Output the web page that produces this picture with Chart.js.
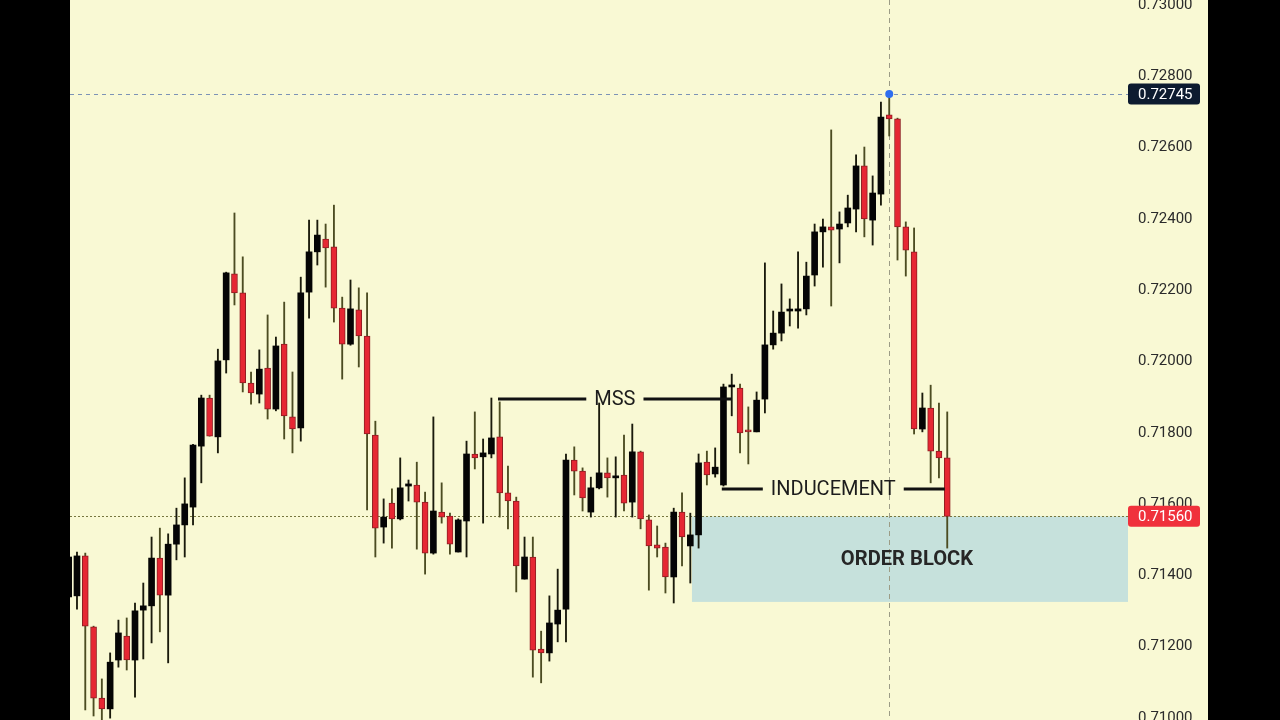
<!DOCTYPE html>
<html><head><meta charset="utf-8">
<script src="https://cdn.jsdelivr.net/npm/chart.js@4.4.1/dist/chart.umd.min.js"></script>
<style>
html,body{margin:0;padding:0;background:#000;width:1280px;height:720px;overflow:hidden}
#wrap{position:absolute;left:70px;top:0;width:1138px;height:720px;background:#f9f9d4}
canvas{display:block}
</style></head><body>
<div id="wrap"><canvas id="c" width="1138" height="720"></canvas></div>
<script>
// ---- data (candle index 0..106) ----
const opens = [0.71334,0.71337,0.71449,0.71250,0.71050,0.71020,0.71157,0.71224,0.71157,0.71297,
0.71309,0.71443,0.71339,0.71482,0.71536,0.71586,0.71757,0.71892,0.71783,0.71999,
0.72240,0.72187,0.71934,0.71903,0.71976,0.71861,0.72043,0.71839,0.71808,0.72189,
0.72302,0.72338,0.72316,0.72144,0.72043,0.72139,0.72066,0.71788,0.71530,0.71597,
0.71553,0.71645,0.71648,0.71600,0.71457,0.71572,0.71561,0.71460,0.71547,0.71735,
0.71727,0.71735,0.71783,0.71626,0.71603,0.71384,0.71446,0.71188,0.71177,0.71258,
0.71300,0.71718,0.71687,0.71572,0.71640,0.71682,0.71668,0.71676,0.71600,0.71741,
0.71550,0.71480,0.71474,0.71390,0.71572,0.71477,0.71508,0.71712,0.71679,0.71648,
0.71923,0.71920,0.71799,0.71797,0.71889,0.72041,0.72074,0.72136,0.72136,0.72142,
0.72237,0.72358,0.72372,0.72366,0.72383,0.72422,0.72543,0.72391,0.72464,0.72686,
0.72675,0.72372,0.72302,0.71805,0.71864,0.71743,0.71724];
const highs = [0.71466,0.71460,0.71457,0.71252,0.71104,0.71177,0.71269,0.71275,0.71317,0.71373,
0.71502,0.71527,0.71511,0.71583,0.71668,0.71762,0.71900,0.71900,0.72029,0.72245,
0.72411,0.72288,0.71965,0.72027,0.72125,0.72063,0.72161,0.71965,0.72231,0.72391,
0.72391,0.72380,0.72433,0.72175,0.72223,0.72201,0.72187,0.71827,0.71609,0.71637,
0.71724,0.71662,0.71712,0.71628,0.71839,0.71654,0.71569,0.71553,0.71771,0.71853,
0.71777,0.71892,0.71881,0.71701,0.71614,0.71502,0.71502,0.71238,0.71337,0.71412,
0.71735,0.71755,0.71696,0.71670,0.71878,0.71724,0.71727,0.71788,0.71819,0.71743,
0.71564,0.71533,0.71485,0.71583,0.71626,0.71569,0.71735,0.71743,0.71752,0.71931,
0.71959,0.71931,0.71867,0.71909,0.72271,0.72136,0.72212,0.72170,0.72302,0.72273,
0.72380,0.72394,0.72644,0.72414,0.72461,0.72574,0.72596,0.72515,0.72722,0.72745,
0.72677,0.72386,0.72369,0.71906,0.71928,0.71878,0.71853];
const lows = [0.71292,0.71300,0.71017,0.71000,0.70983,0.70994,0.71137,0.71129,0.71053,0.71160,
0.71205,0.71236,0.71149,0.71438,0.71446,0.71536,0.71654,0.71785,0.71738,0.71962,
0.72153,0.71909,0.71875,0.71878,0.71833,0.71856,0.71777,0.71738,0.71771,0.72116,
0.72265,0.72203,0.72105,0.71945,0.72040,0.71979,0.71578,0.71446,0.71485,0.71471,
0.71550,0.71603,0.71468,0.71398,0.71454,0.71541,0.71454,0.71460,0.71446,0.71693,
0.71541,0.71724,0.71558,0.71525,0.71348,0.71384,0.71109,0.71093,0.71154,0.71208,
0.71208,0.71620,0.71575,0.71558,0.71637,0.71614,0.71558,0.71575,0.71558,0.71525,
0.71353,0.71446,0.71345,0.71317,0.71421,0.71373,0.71471,0.71648,0.71670,0.71645,
0.71842,0.71738,0.71707,0.71797,0.71850,0.72029,0.72052,0.72094,0.72088,0.72125,
0.72206,0.72259,0.72150,0.72271,0.72372,0.72358,0.72344,0.72321,0.72433,0.72627,
0.72279,0.72234,0.71791,0.71797,0.71654,0.71668,0.71471];
const closes = [0.71446,0.71449,0.71252,0.71050,0.71020,0.71151,0.71233,0.71157,0.71295,0.71309,
0.71443,0.71339,0.71482,0.71536,0.71595,0.71760,0.71892,0.71785,0.71996,0.72243,
0.72187,0.71934,0.71906,0.71973,0.71861,0.72038,0.71842,0.71805,0.72187,0.72302,
0.72349,0.72313,0.72144,0.72043,0.72142,0.72066,0.71791,0.71527,0.71558,0.71553,
0.71640,0.71651,0.71600,0.71457,0.71575,0.71558,0.71482,0.71550,0.71735,0.71724,
0.71738,0.71780,0.71626,0.71603,0.71421,0.71446,0.71185,0.71177,0.71261,0.71297,
0.71718,0.71687,0.71612,0.71640,0.71682,0.71668,0.71673,0.71597,0.71741,0.71553,
0.71477,0.71471,0.71390,0.71572,0.71502,0.71508,0.71710,0.71676,0.71698,0.71923,
0.71928,0.71794,0.71797,0.71886,0.72041,0.72074,0.72133,0.72139,0.72142,0.72234,
0.72358,0.72372,0.72363,0.72380,0.72425,0.72543,0.72394,0.72467,0.72680,0.72675,
0.72372,0.72307,0.71805,0.71864,0.71743,0.71724,0.71560];
const yTicks = [0.710,0.712,0.714,0.716,0.718,0.720,0.722,0.724,0.726,0.728,0.730];
const highMark = 0.72745;      // last swing high (marker + label)
const highMarkIndex = 99;
const lastPrice = 0.71560;     // price line + label
const mssLine = {from:51.8, to:80, level:0.71889, text:'MSS'};
const indLine = {from:78.8, to:105.7, level:0.71637, text:'INDUCEMENT'};
const orderBlock = {from:75.2, top:0.71560, bottom:0.71320, text:'ORDER BLOCK'};

// ---- view range ----
const xMin = 0.157, xMax = 127.81;
const yMin = 0.7098878, yMax = 0.7300842;

const idx = opens.map((_, i) => i);
const bull = idx.map(i => closes[i] >= opens[i]);
const RED = '#e62733';

const annot = {
  id: 'annot',
  beforeDatasetsDraw(chart) {
    const {ctx, chartArea: a, scales: {x, y}} = chart;
    ctx.save();
    const bx = x.getPixelForValue(orderBlock.from);
    const by0 = y.getPixelForValue(orderBlock.top), by1 = y.getPixelForValue(orderBlock.bottom);
    ctx.fillStyle = '#c6e1dc';
    ctx.fillRect(bx, by0, a.right - bx, by1 - by0);
    let hy = Math.round(y.getPixelForValue(highMark)) + 0.5;
    ctx.strokeStyle = '#7d93b6'; ctx.lineWidth = 1; ctx.setLineDash([4, 4]);
    ctx.beginPath(); ctx.moveTo(a.left, hy); ctx.lineTo(a.right, hy); ctx.stroke();
    let ly = Math.round(y.getPixelForValue(lastPrice)) + 0.5;
    ctx.strokeStyle = '#77773f'; ctx.setLineDash([2, 2]);
    ctx.beginPath(); ctx.moveTo(a.left, ly); ctx.lineTo(a.right, ly); ctx.stroke();
    let cx = Math.round(x.getPixelForValue(highMarkIndex)) + 0.5;
    ctx.strokeStyle = '#9c9c86'; ctx.setLineDash([5, 4]);
    ctx.beginPath(); ctx.moveTo(cx, a.top); ctx.lineTo(cx, a.bottom); ctx.stroke();
    ctx.restore();
  },
  afterDatasetsDraw(chart) {
    const {ctx, chartArea: a, scales: {x, y}} = chart;
    ctx.save();
    const drawLabelLine = (L) => {
      const x0 = x.getPixelForValue(L.from), x1 = x.getPixelForValue(L.to);
      const yy = y.getPixelForValue(L.level);
      ctx.font = '20px Roboto';
      const w = ctx.measureText(L.text).width;
      const cxm = (x0 + x1) / 2;
      ctx.strokeStyle = '#111'; ctx.lineWidth = 3; ctx.setLineDash([]);
      ctx.beginPath();
      ctx.moveTo(x0, yy); ctx.lineTo(cxm - w / 2 - 8, yy);
      ctx.moveTo(cxm + w / 2 + 8, yy); ctx.lineTo(x1, yy);
      ctx.stroke();
      ctx.fillStyle = '#1c1c1c'; ctx.textAlign = 'center'; ctx.textBaseline = 'middle';
      ctx.fillText(L.text, cxm, yy + 1);
    };
    drawLabelLine(mssLine);
    drawLabelLine(indLine);
    const bx = x.getPixelForValue(orderBlock.from);
    const by0 = y.getPixelForValue(orderBlock.top), by1 = y.getPixelForValue(orderBlock.bottom);
    ctx.save();
    ctx.translate((bx + a.right) / 2 - 3, (by0 + by1) / 2 + 1);
    ctx.scale(0.96, 1);
    ctx.font = 'bold 21px Roboto';
    ctx.fillStyle = '#262626'; ctx.textAlign = 'center'; ctx.textBaseline = 'middle';
    ctx.fillText(orderBlock.text, 0, 0);
    ctx.restore();
    ctx.fillStyle = '#2f6ef0';
    ctx.beginPath();
    ctx.arc(x.getPixelForValue(highMarkIndex), y.getPixelForValue(highMark), 4, 0, Math.PI * 2);
    ctx.fill();
    ctx.restore();
  },
  afterDraw(chart) {
    const {ctx, chartArea: a, scales: {y}} = chart;
    ctx.save();
    const box = (val, color) => {
      const yy = y.getPixelForValue(val);
      ctx.fillStyle = color;
      ctx.beginPath();
      ctx.roundRect(a.right, yy - 10.5, 72, 21, 3);
      ctx.fill();
      ctx.fillStyle = '#ffffff'; ctx.font = '15px Roboto';
      ctx.textAlign = 'left'; ctx.textBaseline = 'middle';
      ctx.fillText(val.toFixed(5), a.right + 10, yy + 1);
    };
    box(highMark, '#0d1b30');
    box(lastPrice, '#f0313c');
    ctx.restore();
  }
};

new Chart(document.getElementById('c'), {
  type: 'bar',
  data: {
    datasets: [
      {
        label: 'body',
        order: 0,
        grouped: false,
        data: idx.map(i => ({x: i, y: [opens[i], closes[i]]})),
        backgroundColor: idx.map(i => bull[i] ? '#050505' : RED),
        borderColor: idx.map(i => bull[i] ? '#050505' : '#8e1d22'),
        borderWidth: idx.map(i => bull[i] ? 0 : 1),
        borderSkipped: false,
        barThickness: 6,
        minBarLength: 2
      },
      {
        label: 'wick',
        order: 1,
        grouped: false,
        data: idx.map(i => ({x: i, y: [lows[i], highs[i]]})),
        backgroundColor: idx.map(i => bull[i] ? '#1a1a0c' : '#4c4c22'),
        borderWidth: 0,
        barThickness: 1.2
      }
    ]
  },
  options: {
    responsive: false,
    animation: false,
    events: [],
    layout: {padding: 0},
    plugins: {legend: {display: false}, tooltip: {enabled: false}},
    scales: {
      x: {type: 'linear', display: false, min: xMin, max: xMax, offset: false},
      y: {
        position: 'right', min: yMin, max: yMax,
        grid: {display: false}, border: {display: false},
        afterBuildTicks: s => { s.ticks = yTicks.map(v => ({value: v})); },
        afterFit: s => { s.width = 80; s.paddingTop = 0; s.paddingBottom = 0; },
        ticks: {padding: 2, labelOffset: 2, color: '#2b2b2b', autoSkip: false,
                font: {family: 'Roboto', size: 15},
                callback: v => Number(v).toFixed(5)}
      }
    }
  },
  plugins: [annot]
});
</script>
</body></html>
